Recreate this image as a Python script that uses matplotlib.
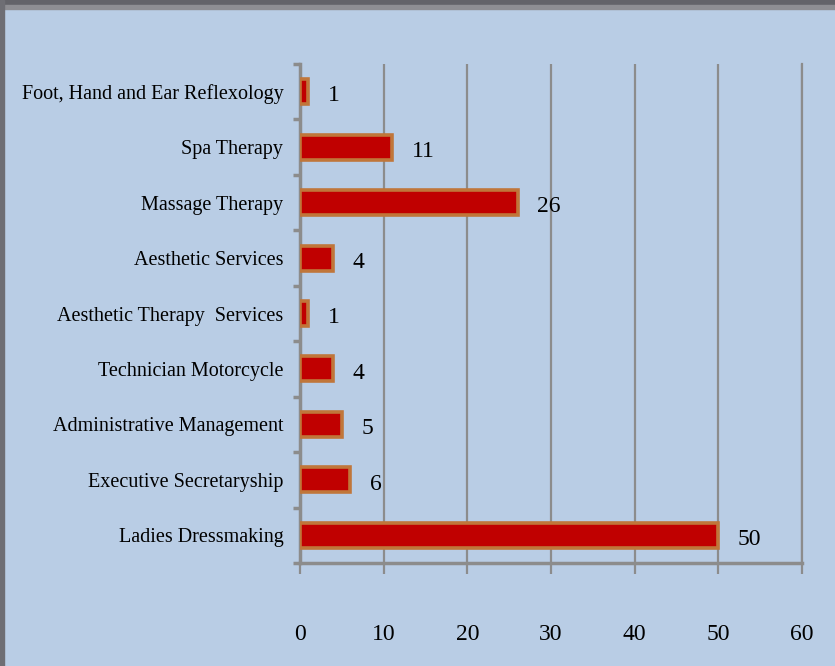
import matplotlib.pyplot as plt
from matplotlib.patches import Rectangle

categories = ['Ladies Dressmaking', 'Executive Secretaryship', 'Administrative Management',
              'Technician Motorcycle', 'Aesthetic Therapy  Services', 'Aesthetic Services',
              'Massage Therapy', 'Spa Therapy', 'Foot, Hand and Ear Reflexology']
values = [50, 6, 5, 4, 1, 4, 26, 11, 1]
xticks = [0, 10, 20, 30, 40, 50, 60]

bg = '#B9CDE5'
grid_col = '#8C8C8C'
font = dict(family='Liberation Serif', size=14.5)
numfont = dict(family='Liberation Serif', size=17)

fig = plt.figure(figsize=(8.35, 6.66), dpi=100, facecolor=bg)
ax = fig.add_axes([300/835, 103/666, 502/835, 499/666])
ax.set_facecolor(bg)

# frame of the slide
fig.patches.append(Rectangle((0, 1 - 5/666), 1, 5/666, transform=fig.transFigure,
                             color='#636369', zorder=0))
fig.patches.append(Rectangle((0, 1 - 9/666), 1, 4/666, transform=fig.transFigure,
                             color='#8E8E93', zorder=0))
fig.patches.append(Rectangle((0, 0), 4/835, 1, transform=fig.transFigure,
                             color='#6E6E74', zorder=0))

y = list(range(len(categories)))
ax.barh(y, values, height=0.45, color='#C00000', edgecolor='#C0763A', linewidth=2.6, zorder=3)

for yi, v in zip(y, values):
    ax.annotate(str(v), (v, yi), xytext=(14, -3), textcoords='offset points',
                ha='left', va='center', **numfont)

ax.set_xlim(0, 60)
ax.set_ylim(-0.5, len(categories) - 0.5)
ax.set_xticks(xticks)
ax.set_xticklabels([str(t) for t in xticks], **numfont)
ax.set_yticks(y)
ax.set_yticklabels(categories, **font)
ax.set_yticks([i - 0.5 for i in range(len(categories) + 1)], minor=True)

ax.grid(axis='x', color=grid_col, linewidth=1.6, zorder=0)
ax.axvline(60, color=grid_col, linewidth=1.6, zorder=0, clip_on=False)
ax.tick_params(axis='x', length=8, width=1.6, color=grid_col, pad=36)
ax.tick_params(axis='y', which='major', length=0, pad=12)
ax.tick_params(axis='y', which='minor', length=5, width=2.5, color=grid_col)

for s in ['top', 'right']:
    ax.spines[s].set_visible(False)
for s in ['left', 'bottom']:
    ax.spines[s].set_color(grid_col)
    ax.spines[s].set_linewidth(2.5)

fig.savefig('out.png', dpi=100, facecolor=bg)
